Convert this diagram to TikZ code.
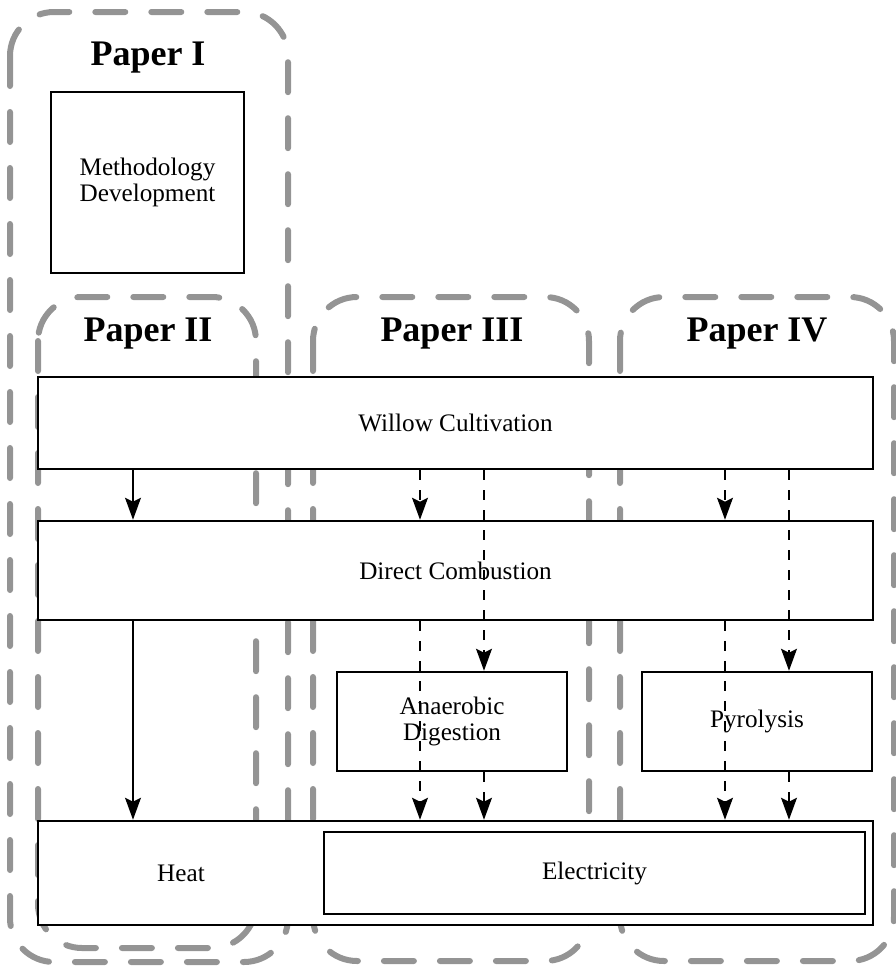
\documentclass[tikz,border=0pt]{standalone}
\usepackage{fontspec}
\setmainfont{Liberation Serif}
\usetikzlibrary{arrows.meta}
\begin{document}
\begin{tikzpicture}[x=.5pt, y=-.5pt, >={Stealth[length=11pt,width=8pt,inset=2pt]},
    paper/.style={draw=black!42, line width=3pt, line cap=round, dash pattern=on 15pt off 13pt, rounded corners=22pt},
    box/.style={draw, line width=1.3pt, fill=white, align=center, inner sep=0pt, font=\fontsize{12.6}{13}\selectfont},
    title/.style={font=\fontsize{18}{20}\selectfont\bfseries},
    flow/.style={->, line width=.6pt},
    alt/.style={flow, dash pattern=on 5pt off 5pt}]
\useasboundingbox (0,0) rectangle (896,966);
\draw[paper](10,12) rectangle (288,962);
\draw[paper](38,297) rectangle (256,948);
\draw[paper](313,297) rectangle (589,961);
\draw[paper](620,297) rectangle (894,961);
\node[title] (paperI) at (148,58) {Paper I};
\node[title] (paperII) at (148,334) {Paper II};
\node[title] (paperIII) at (452,334) {Paper III};
\node[title] (paperIV) at (757,334) {Paper IV};
\node[box, minimum width=96.5pt, minimum height=90.5pt] (method) at (147.5,182.5) {Methodology\\Development};
\node[box, minimum width=417.5pt, minimum height=46pt] (willow) at (455.5,423) {Willow Cultivation};
\node[box, minimum width=417.5pt, minimum height=49.5pt] (dc) at (455.5,570.5) {Direct Combustion};
\node[box, minimum width=115pt, minimum height=49.5pt] (anaerobic) at (452,721.5) {Anaerobic\\Digestion};
\node[box, minimum width=115pt, minimum height=49.5pt] (pyrolysis) at (757,721.5) {Pyrolysis};
\node[box, minimum width=417.5pt, minimum height=52pt] (energy) at (455.5,873) {};
\node[box, minimum width=270.5pt, minimum height=41pt] (electricity) at (594.5,873) {Electricity};
\node[font=\fontsize{12.6}{13}\selectfont] (heat) at (181,873) {Heat};
\coordinate (p2) at (133,0);
\coordinate (p3a) at (420,0);
\coordinate (p3b) at (484,0);
\coordinate (p4a) at (725,0);
\coordinate (p4b) at (789,0);
\draw[flow](willow.south -| p2)--(dc.north -| p2);
\draw[flow](dc.south -| p2)--(energy.north -| p2);
\draw[alt](willow.south -| p3a)--(dc.north -| p3a);
\draw[alt](dc.south -| p3a)--(energy.north -| p3a);
\draw[alt](willow.south -| p3b)--(anaerobic.north -| p3b);
\draw[alt](anaerobic.south -| p3b)--(energy.north -| p3b);
\draw[alt](willow.south -| p4a)--(dc.north -| p4a);
\draw[alt](dc.south -| p4a)--(energy.north -| p4a);
\draw[alt](willow.south -| p4b)--(pyrolysis.north -| p4b);
\draw[alt](pyrolysis.south -| p4b)--(energy.north -| p4b);
\end{tikzpicture}
\end{document}
